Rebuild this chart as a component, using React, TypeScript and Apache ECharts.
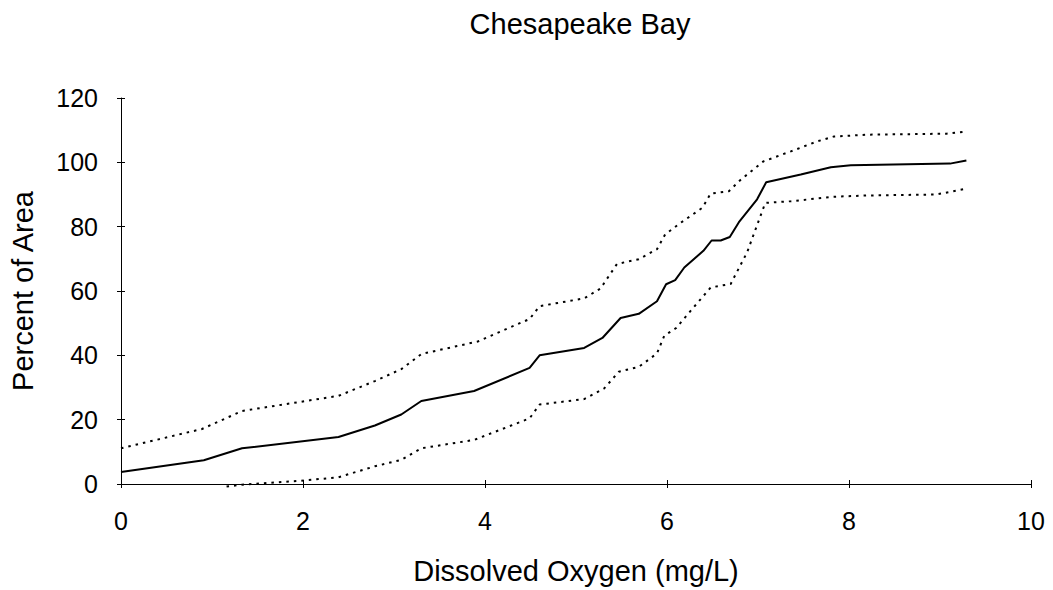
import React, { useEffect, useRef } from "react";
import * as echarts from "echarts";

const titleText = "Chesapeake Bay";
const xName = "Dissolved Oxygen (mg/L)";
const yName = "Percent of Area";

const midX = [0, 0.91, 1.33, 2.39, 2.79, 3.08, 3.3, 3.88, 4.49, 4.6, 5.09, 5.29, 5.49, 5.69, 5.89, 5.99, 6.09, 6.19, 6.4, 6.49, 6.59, 6.69, 6.79, 6.99, 7.09, 7.47, 7.8, 8.02, 9.11, 9.29];
const midY = [3.7, 7.4, 11.1, 14.6, 18.2, 21.6, 25.8, 28.9, 36.1, 40.0, 42.3, 45.4, 51.6, 52.9, 56.8, 62.1, 63.4, 67.3, 72.5, 75.7, 75.7, 76.8, 81.4, 88.5, 93.8, 96.2, 98.5, 99.1, 99.6, 100.6];

const upperX = [0, 0.89, 1.33, 2.39, 2.79, 3.08, 3.3, 3.92, 4.49, 4.6, 5.09, 5.27, 5.45, 5.69, 5.89, 5.98, 6.15, 6.39, 6.48, 6.68, 6.81, 7.06, 7.36, 7.65, 7.83, 8.2, 9.07, 9.29];
const upperY = [11.1, 17.1, 22.7, 27.4, 32.0, 35.7, 40.4, 44.3, 51.3, 55.3, 57.7, 60.8, 68.4, 69.9, 73.0, 77.6, 81.2, 85.9, 90.3, 91.0, 94.6, 100.3, 103.4, 106.5, 108.0, 108.6, 108.9, 109.6];

const lowerX = [1.16, 1.33, 1.98, 2.39, 2.79, 3.08, 3.3, 3.88, 4.49, 4.6, 5.09, 5.31, 5.47, 5.69, 5.89, 5.97, 6.1, 6.28, 6.48, 6.7, 6.88, 7.08, 7.36, 7.83, 8.2, 8.96, 9.29];
const lowerY = [-0.8, -0.2, 1.0, 2.1, 5.5, 7.5, 11.1, 13.7, 20.4, 24.7, 26.4, 29.7, 34.9, 36.4, 40.6, 46.1, 48.5, 54.5, 61.1, 62.2, 72.0, 87.4, 87.9, 89.3, 89.7, 90.0, 91.8];

const zip = (xs: number[], ys: number[]) => xs.map((x, i) => [x, ys[i]]);

export default function App() {
  const ref = useRef<HTMLDivElement>(null);
  useEffect(() => {
    if (!ref.current) return;
    const chart = echarts.init(ref.current, undefined, { renderer: "svg" });
    const font = "Liberation Sans, Arial, Helvetica, sans-serif";
    const tickStyle = { color: "#000", width: 1 };
    chart.setOption({
      animation: false,
      backgroundColor: "#ffffff",
      textStyle: { fontFamily: font, color: "#000" },
      title: {
        text: titleText,
        left: 575,
        top: 4,
        textAlign: "center",
        textStyle: { fontFamily: font, fontSize: 29, fontWeight: "normal", color: "#000" },
      },
      grid: { left: 119, right: 22, top: 98, bottom: 104, containLabel: false },
      xAxis: [
        {
          type: "value",
          min: 0,
          max: 10,
          interval: 2,
          name: xName,
          nameLocation: "middle",
          nameGap: 72,
          nameTextStyle: { fontFamily: font, fontSize: 29, color: "#000" },
          axisLine: { show: true, onZero: false, lineStyle: { color: "#000", width: 1 } },
          axisTick: { show: true, inside: false, length: 4, lineStyle: tickStyle },
          axisLabel: { fontFamily: font, fontSize: 25, color: "#000", margin: 24 },
          splitLine: { show: false },
        },
        {
          type: "value",
          position: "bottom",
          min: 0,
          max: 10,
          interval: 2,
          axisLine: { show: false },
          axisTick: { show: true, inside: true, length: 4, lineStyle: tickStyle },
          axisLabel: { show: false },
          splitLine: { show: false },
        },
      ],
      yAxis: [
        {
          type: "value",
          min: 0,
          max: 120,
          interval: 20,
          name: yName,
          nameLocation: "middle",
          nameGap: 84,
          nameTextStyle: { fontFamily: font, fontSize: 29, color: "#000" },
          axisLine: { show: true, lineStyle: { color: "#000", width: 1 } },
          axisTick: { show: true, inside: false, length: 4, lineStyle: tickStyle },
          axisLabel: { fontFamily: font, fontSize: 25, color: "#000", margin: 23 },
          splitLine: { show: false },
        },
        {
          type: "value",
          position: "left",
          min: 0,
          max: 120,
          interval: 20,
          axisLine: { show: false },
          axisTick: { show: true, inside: true, length: 4, lineStyle: tickStyle },
          axisLabel: { show: false },
          splitLine: { show: false },
        },
      ],
      series: [
        {
          type: "line",
          data: zip(upperX, upperY),
          symbol: "none",
          clip: false,
          lineStyle: { color: "#000", width: 2, type: [2.5, 5] },
        },
        {
          type: "line",
          data: zip(midX, midY),
          symbol: "none",
          clip: false,
          lineStyle: { color: "#000", width: 2 },
        },
        {
          type: "line",
          data: zip(lowerX, lowerY),
          symbol: "none",
          clip: false,
          lineStyle: { color: "#000", width: 2, type: [2.5, 5] },
        },
      ],
    });
    return () => chart.dispose();
  }, []);
  return (
    <div
      ref={ref}
      style={{ position: "fixed", left: 0, top: 0, width: 1053, height: 590, background: "#fff" }}
    />
  );
}
